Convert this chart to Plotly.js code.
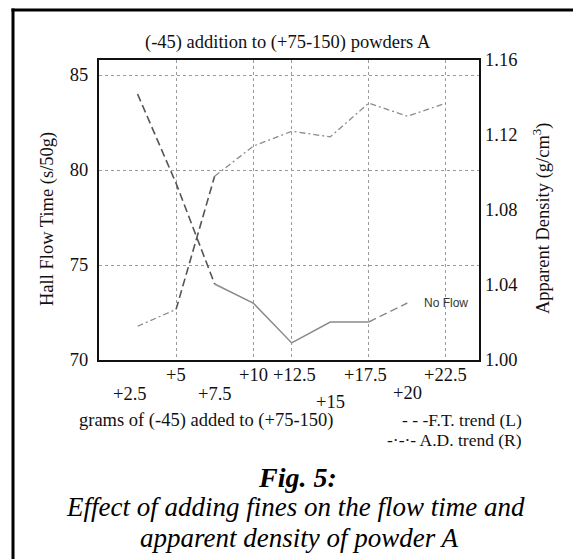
<!DOCTYPE html>
<html>
<head>
<meta charset="utf-8">
<script src="https://cdn.plot.ly/plotly-3.0.1.min.js"></script>
<style>
  html, body { margin: 0; padding: 0; background: #fff; }
  #chart { width: 573px; height: 559px; }
</style>
</head>
<body>
<div id="chart"></div>
<script>
// ---- data ----
const gramsAdded   = [2.5, 5, 7.5, 10, 12.5, 15, 17.5, 20, 22.5];
const tickLabels   = ['+2.5', '+5', '+7.5', '+10', '+12.5', '+15', '+17.5', '+20', '+22.5'];
const gridPositions = [5, 10, 12.5, 17.5, 22.5];
// Hall flow time (s/50g), left axis; no flow at +22.5
const flowGrams    = [2.5, 5, 7.5, 10, 12.5, 15, 17.5, 20];
const flowTime     = [84, 79.3, 74, 73, 70.9, 72, 72, 73];
// Apparent density (g/cm3), right axis
const appDensity   = [1.018, 1.027, 1.098, 1.114, 1.122, 1.119, 1.137, 1.130, 1.137];

// ---- layout geometry (pixels) ----
const W = 573, H = 559;
const L = 99, R = 479, T = 60, B = 360;
const px2x = X => (X - L) / (R - L);
const px2y = Y => (B - Y) / (B - T);

const serif = 'Liberation Serif, Times New Roman, serif';
const txt = '#111';
const fs = 18.5;

// tick label rows (vertical pixel centre of each label) and small horizontal nudges
const labelRowY  = [394, 375, 394, 375, 375, 402, 375, 393, 375];
const labelShift = [-8, 0, 0, 0, 3, 0, -3, 0, 0];

const traces = [
  // F.T. trend (L): dashed, solid, dashed segments
  { x: flowGrams.slice(0, 3), y: flowTime.slice(0, 3), mode: 'lines', yaxis: 'y',
    line: { color: '#555', width: 1.6, dash: '8px,4px' }, hoverinfo: 'skip' },
  { x: flowGrams.slice(2, 7), y: flowTime.slice(2, 7), mode: 'lines', yaxis: 'y',
    line: { color: '#8a8a8a', width: 1.5 }, hoverinfo: 'skip' },
  { x: flowGrams.slice(6, 8), y: flowTime.slice(6, 8), mode: 'lines', yaxis: 'y',
    line: { color: '#8a8a8a', width: 1.4, dash: '8px,4px' }, hoverinfo: 'skip' },
  // A.D. trend (R): dash-dot, dashed, dash-dot
  { x: gramsAdded.slice(0, 2), y: appDensity.slice(0, 2), mode: 'lines', yaxis: 'y2',
    line: { color: '#8c8c8c', width: 1.3, dash: '6px,3px,2px,3px' }, hoverinfo: 'skip' },
  { x: gramsAdded.slice(1, 3), y: appDensity.slice(1, 3), mode: 'lines', yaxis: 'y2',
    line: { color: '#555', width: 1.6, dash: '8px,4px' }, hoverinfo: 'skip' },
  { x: gramsAdded.slice(2), y: appDensity.slice(2), mode: 'lines', yaxis: 'y2',
    line: { color: '#8c8c8c', width: 1.3, dash: '6px,3px,2px,3px' }, hoverinfo: 'skip' }
];

const annotations = [];
tickLabels.forEach((t, i) => {
  annotations.push({
    text: t, xref: 'x', x: gramsAdded[i], yref: 'paper', y: px2y(labelRowY[i]),
    xanchor: 'center', yanchor: 'middle', showarrow: false, xshift: labelShift[i],
    font: { family: serif, size: fs, color: txt }
  });
});
annotations.push(
  { text: 'No Flow', xref: 'x', x: 22.5, yref: 'y', y: 73, showarrow: false,
    xanchor: 'center', yanchor: 'middle', font: { family: 'Liberation Sans, Arial, sans-serif', size: 12, color: '#333' } },
  { text: 'Hall Flow Time (s/50g)', xref: 'paper', x: px2x(47), yref: 'paper', y: px2y(219),
    textangle: -90, showarrow: false, xanchor: 'center', yanchor: 'middle',
    font: { family: serif, size: fs, color: txt } },
  { text: 'Apparent Density (g/cm<sup>3</sup>)', xref: 'paper', x: px2x(541), yref: 'paper', y: px2y(219),
    textangle: -90, showarrow: false, xanchor: 'center', yanchor: 'middle',
    font: { family: serif, size: fs, color: txt } },
  { text: 'grams of (-45) added to (+75-150)', xref: 'paper', x: px2x(206), yref: 'paper', y: px2y(420),
    showarrow: false, xanchor: 'center', yanchor: 'middle', font: { family: serif, size: fs, color: txt } },
  { text: '- - -F.T. trend (L)', xref: 'paper', x: px2x(524), yref: 'paper', y: px2y(420),
    showarrow: false, xanchor: 'right', yanchor: 'middle', font: { family: serif, size: 17.5, color: txt } },
  { text: '-·-·- A.D. trend (R)', xref: 'paper', x: px2x(524), yref: 'paper', y: px2y(440),
    showarrow: false, xanchor: 'right', yanchor: 'middle', font: { family: serif, size: 17.5, color: txt } },
  { text: '<b><i>Fig. 5:</i></b>', xref: 'paper', x: px2x(297), yref: 'paper', y: px2y(477),
    showarrow: false, xanchor: 'center', yanchor: 'middle', font: { family: serif, size: 28, color: '#000' } },
  { text: '<i>Effect of adding fines on the flow time and</i>', xref: 'paper', x: px2x(295), yref: 'paper', y: px2y(507),
    showarrow: false, xanchor: 'center', yanchor: 'middle', font: { family: serif, size: 27, color: '#000' } },
  { text: '<i>apparent density of powder A</i>', xref: 'paper', x: px2x(299), yref: 'paper', y: px2y(538),
    showarrow: false, xanchor: 'center', yanchor: 'middle', font: { family: serif, size: 27, color: '#000' } }
);

const layout = {
  width: W, height: H,
  margin: { l: L, r: W - R, t: T, b: H - B, pad: 0 },
  paper_bgcolor: '#fff', plot_bgcolor: '#fff',
  showlegend: false,
  title: { text: '(-45) addition to (+75-150) powders A', font: { family: serif, size: fs, color: txt },
           x: 0.502, xref: 'container', xanchor: 'center', y: 1 - 42 / H, yref: 'container', yanchor: 'middle' },
  xaxis: {
    range: [0, 24.65], tickvals: gridPositions, showticklabels: false, ticks: '',
    showgrid: true, gridcolor: '#9a9a9a', griddash: 'dot', gridwidth: 1,
    showline: true, linecolor: '#111', linewidth: 2, mirror: true, zeroline: false
  },
  yaxis: {
    range: [70, 85.79], tickvals: [70, 75, 80, 85], ticks: '',
    tickfont: { family: serif, size: fs, color: txt }, ticklabelstandoff: 5,
    showgrid: true, gridcolor: '#9a9a9a', griddash: 'dot', gridwidth: 1,
    showline: true, linecolor: '#111', linewidth: 2, mirror: true, zeroline: false
  },
  yaxis2: {
    overlaying: 'y', side: 'right', range: [1.0, 1.16],
    tickvals: [1.00, 1.04, 1.08, 1.12, 1.16], ticktext: ['1.00', '1.04', '1.08', '1.12', '1.16'],
    ticks: '', showgrid: false, zeroline: false, showline: false,
    tickfont: { family: serif, size: fs, color: txt }, ticklabelstandoff: 5
  },
  annotations: annotations,
  shapes: [
    { type: 'line', xref: 'paper', yref: 'paper', x0: px2x(13), x1: px2x(13), y0: px2y(8.5), y1: px2y(600),
      line: { color: '#000', width: 3 } },
    { type: 'line', xref: 'paper', yref: 'paper', x0: px2x(11.5), x1: px2x(600), y0: px2y(10), y1: px2y(10),
      line: { color: '#000', width: 3 } }
  ]
};

Plotly.newPlot('chart', traces, layout, { staticPlot: true, displayModeBar: false });
</script>
</body>
</html>
